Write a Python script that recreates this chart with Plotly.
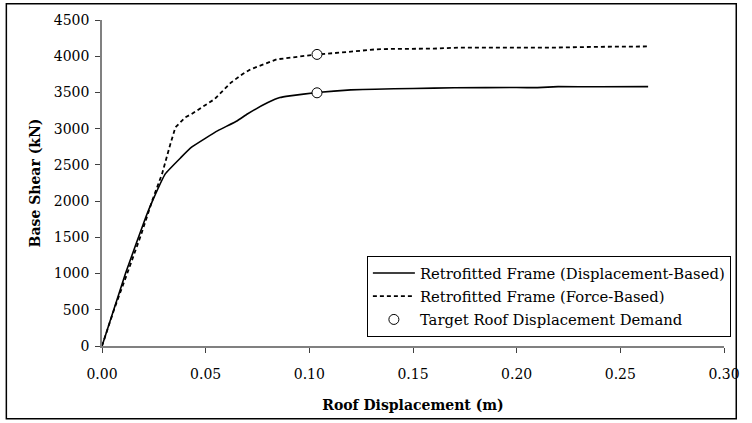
import plotly.graph_objects as go

# Displacement-based retrofitted frame (solid)
disp_x = [0.0, 0.0114, 0.0212, 0.0243, 0.0306, 0.0380, 0.0432, 0.0500, 0.0559, 0.0653, 0.0701,
          0.0800, 0.0858, 0.0906, 0.1037, 0.1200, 0.1316, 0.1500, 0.1700, 0.2000, 0.2100,
          0.2200, 0.2400, 0.2634]
disp_y = [0, 1007, 1784, 1999, 2379, 2600, 2744, 2870, 2973, 3110, 3202,
          3360, 3430, 3453, 3500, 3535, 3545, 3555, 3565, 3568, 3566,
          3580, 3578, 3580]

# Force-based retrofitted frame (dashed)
force_x = [0.0, 0.0061, 0.0125, 0.0188, 0.0243, 0.0290, 0.0330, 0.0354, 0.0401, 0.0432, 0.0543,
           0.0622, 0.0677, 0.0716, 0.0843, 0.1037, 0.1150, 0.1316, 0.1380, 0.1600, 0.1727,
           0.2000, 0.2200, 0.2400, 0.2634]
force_y = [0, 527, 1029, 1532, 2013, 2379, 2790, 3018, 3155, 3202, 3408,
           3636, 3751, 3819, 3957, 4025, 4050, 4094, 4100, 4105, 4120,
           4118, 4120, 4130, 4135]

# Target roof displacement demand
target_x = [0.1037, 0.1037]
target_y = [3495, 4025]

x_ticks = [0.0, 0.05, 0.10, 0.15, 0.20, 0.25, 0.30]
y_ticks = [0, 500, 1000, 1500, 2000, 2500, 3000, 3500, 4000, 4500]

FONT = "DejaVu Serif"

fig = go.Figure()
fig.add_trace(go.Scatter(x=disp_x, y=disp_y, mode="lines",
                         line=dict(color="black", width=1.6, shape="spline", smoothing=0.3),
                         name="Retrofitted Frame (Displacement-Based)",
                         legendgroup="a"))
fig.add_trace(go.Scatter(x=force_x, y=force_y, mode="lines",
                         line=dict(color="black", width=1.8, dash="4px,3px"),
                         name="Retrofitted Frame (Force-Based)",
                         legendgroup="b"))
fig.add_trace(go.Scatter(x=target_x, y=target_y, mode="markers",
                         marker=dict(symbol="circle", size=10, color="white",
                                     line=dict(color="black", width=1)),
                         name="Target Roof Displacement Demand",
                         legendgroup="c"))

L, R, T, B = 102, 16, 18, 76
W, H = 752, 423
pw, ph = W - L - R, H - T - B

def px_to_paper_x(px):
    return (px - L) / pw

def px_to_paper_y(py):
    return (H - B - py) / ph

fig.add_shape(type="rect", xref="paper", yref="paper",
              x0=px_to_paper_x(4.5), x1=px_to_paper_x(748.5),
              y0=px_to_paper_y(420.5), y1=px_to_paper_y(1.5),
              line=dict(color="black", width=1.5), fillcolor="rgba(0,0,0,0)",
              layer="below")

fig.update_layout(
    width=W, height=H,
    margin=dict(l=L, r=R, t=T, b=B, pad=0),
    paper_bgcolor="white", plot_bgcolor="white",
    font=dict(family=FONT, color="black", size=14),
    showlegend=True,
    legend=dict(x=px_to_paper_x(372), y=px_to_paper_y(256), xanchor="left", yanchor="top",
                bordercolor="black", borderwidth=1, bgcolor="white",
                font=dict(family=FONT, size=14.8, color="black"),
                traceorder="grouped", tracegroupgap=1, itemwidth=42),
    xaxis=dict(range=[0, 0.30], tickvals=x_ticks, ticktext=[f"{v:.2f}" for v in x_ticks],
               showgrid=False, zeroline=False, showline=True, linecolor="#808080", linewidth=1.5,
               ticks="outside", ticklen=5, tickcolor="#404040", tickwidth=1,
               ticklabelstandoff=9,
               tickfont=dict(family=FONT, size=14),
               title=dict(text="<b>Roof Displacement (m)</b>", font=dict(family=FONT, size=14), standoff=20)),
    yaxis=dict(range=[0, 4500], tickvals=y_ticks,
               showgrid=False, zeroline=False, showline=True, linecolor="#808080", linewidth=1.5,
               ticks="outside", ticklen=5, tickcolor="#404040", tickwidth=1,
               ticklabelstandoff=3,
               tickfont=dict(family=FONT, size=14),
               title=dict(text="<b>Base Shear (kN)</b>", font=dict(family=FONT, size=14), standoff=10)),
)

fig.write_html("out.html")
